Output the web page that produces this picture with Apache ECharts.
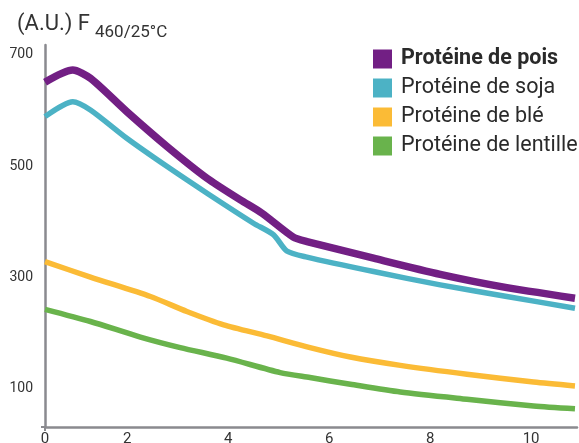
<!DOCTYPE html>
<html>
<head>
<meta charset="utf-8">
<script src="https://cdn.jsdelivr.net/npm/echarts@6/dist/echarts.min.js"></script>
<style>html,body{margin:0;padding:0;background:#fff}#c{width:579px;height:443px}</style>
</head>
<body>
<div id="c"></div>
<script>
var seriesNames = ['Protéine de pois', 'Protéine de soja', 'Protéine de blé', 'Protéine de lentille'];
var xTicks = [0.37, 2, 4, 6, 8, 10];
var xTickLabels = ['0', '2', '4', '6', '8', '10'];
var yTicks = [100, 300, 500, 700];

var xPois = [0.37, 0.92, 1.27, 1.99, 2.79, 3.58, 4.24, 4.67, 5.29, 5.56, 6.88, 8.2, 9.52, 10.87];
var yPois = [651, 673, 658, 598, 535, 478, 439, 415, 372, 364, 334, 305, 281, 262];

var xSoja = [0.37, 0.92, 1.27, 1.99, 2.79, 3.58, 4.5, 4.9, 5.16, 5.56, 6.88, 8.2, 9.52, 10.87];
var ySoja = [589, 616, 601, 550, 499, 451, 397, 376, 347, 336, 310, 286, 265, 244];

var xBle = [0.37, 1.27, 2.46, 3.18, 3.91, 4.77, 5.62, 6.42, 7.41, 8.73, 10.05, 10.87];
var yBle = [328, 300, 265, 238, 214, 194, 173, 156, 141, 125, 111, 104];

var xLentille = [0.37, 1.27, 2.26, 3.05, 3.97, 5.03, 5.62, 6.42, 7.41, 8.73, 10.05, 10.87];
var yLentille = [242, 220, 192, 173, 154, 128, 119, 107, 93, 80, 68, 63];

var colors = ['#721f84', '#4cb2c5', '#fbbb36', '#69b34c'];
var widths = [7.5, 5.5, 5.5, 5.5];

function pairs(xs, ys) { return xs.map(function (x, i) { return [x, ys[i]]; }); }
var allX = [xPois, xSoja, xBle, xLentille];
var allY = [yPois, ySoja, yBle, yLentille];

var chart = echarts.init(document.getElementById('c'), null, {renderer: 'canvas'});
var font = 'Roboto, "DejaVu Sans", sans-serif';
chart.setOption({
  animation: false,
  textStyle: {fontFamily: font},
  grid: {left: 45, right: 2, top: 45, bottom: 16, containLabel: false, outerBoundsMode: 'none'},
  graphic: [
    {type: 'text', left: 17, top: 13, style: {text: '(A.U.) F', font: '22px ' + font, fill: '#333'}},
    {type: 'text', left: 95, top: 24, style: {text: '460/25°C', font: '17px ' + font, fill: '#333'}}
  ],
  legend: {
    orient: 'vertical', left: 368, top: 43,
    itemWidth: 19, itemHeight: 19, itemGap: 7, icon: 'rect',
    textStyle: {fontSize: 21.5, color: '#2a2a2a', fontFamily: font, padding: [0, 0, 0, 4]},
    data: seriesNames.map(function (n, i) {
      return i === 0 ? {name: n, textStyle: {fontWeight: 'bold'}} : {name: n};
    })
  },
  xAxis: {
    type: 'value', min: 0.37, max: 10.91,
    splitLine: {show: false},
    axisLine: {show: true, lineStyle: {color: '#8a8a8f', width: 2.5}},
    axisTick: {show: true, customValues: [0.37], length: 4, lineStyle: {color: '#8a8a8f', width: 2}},
    axisLabel: {
      customValues: xTicks, margin: 5, fontSize: 15, color: '#333', fontFamily: font,
      formatter: function (v) { var i = xTicks.indexOf(v); return i >= 0 ? xTickLabels[i] : ''; }
    }
  },
  yAxis: {
    type: 'value', min: 30, max: 718,
    splitLine: {show: false},
    axisLine: {show: true, lineStyle: {color: '#8a8a8f', width: 2.5}},
    axisTick: {show: true, customValues: [30], length: 4, lineStyle: {color: '#8a8a8f', width: 2}},
    axisLabel: {customValues: yTicks, margin: 12, fontSize: 14, color: '#333', fontFamily: font}
  },
  series: seriesNames.map(function (n, i) {
    return {
      name: n, type: 'line', smooth: 0.25, symbol: 'none',
      color: colors[i],
      lineStyle: {width: widths[i], color: colors[i], join: 'round', cap: 'butt'},
      data: pairs(allX[i], allY[i]),
      z: 10 - i
    };
  })
});
</script>
</body>
</html>
